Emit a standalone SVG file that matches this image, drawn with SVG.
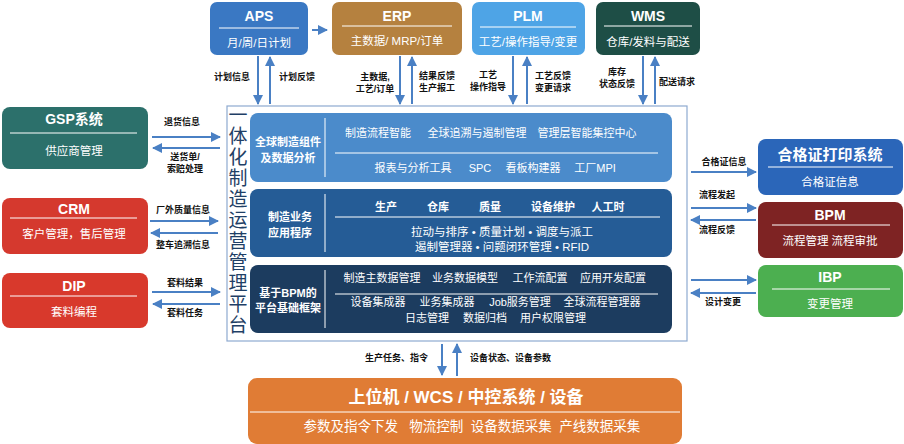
<svg xmlns="http://www.w3.org/2000/svg" width="904" height="444" viewBox="0 0 904 444">
<defs>
<marker id="ah2" viewBox="0 0 10 10" refX="9" refY="5" markerWidth="10" markerHeight="10" orient="auto" markerUnits="userSpaceOnUse">
<path d="M0,0 L10,5 L0,10 z" fill="#4a80c4"/>
</marker>
</defs>
<style>
text{font-family:"Liberation Sans","Noto Sans CJK SC",sans-serif;}
.t{fill:#fff;font-weight:bold;font-size:14px;text-anchor:middle;}
.s{fill:#fff;font-size:11.5px;text-anchor:middle;}
.sec{fill:#fff;font-size:11px;text-anchor:middle;}
.secb{fill:#fff;font-size:11px;font-weight:bold;text-anchor:middle;}
.lab{fill:#111;font-size:9px;font-weight:bold;text-anchor:middle;}
.wl{stroke:#fff;stroke-width:1;}
.arr{stroke:#4a80c4;stroke-width:2;fill:none;marker-end:url(#ah2);}
.vt{fill:#1f3f66;font-size:19px;text-anchor:middle;}
</style>
<rect width="904" height="444" fill="#fff"/>

<g id="platform">
<rect x="227" y="106" width="460" height="235" fill="#fff" stroke="#8eaad0" stroke-width="1.2"/>
<g class="vt">
<text x="238" y="122">一</text>
<text x="238" y="143">体</text>
<text x="238" y="164">化</text>
<text x="238" y="185">制</text>
<text x="238" y="206">造</text>
<text x="238" y="227">运</text>
<text x="238" y="248">营</text>
<text x="238" y="269">管</text>
<text x="238" y="290">理</text>
<text x="238" y="311">平</text>
<text x="238" y="332">台</text>
</g>
</g>

<g id="sec1">
<rect x="250" y="113" width="422" height="69" rx="8" fill="#4b8bcb"/>
<line x1="325" y1="118" x2="325" y2="177" class="wl"/>
<text class="secb" x="288" y="146">全球制造组件</text>
<text class="secb" x="288" y="162">及数据分析</text>
<text class="sec" x="378" y="137">制造流程智能</text>
<text class="sec" x="477" y="137">全球追溯与遏制管理</text>
<text class="sec" x="587" y="137">管理层智能集控中心</text>
<line x1="335" y1="153" x2="658" y2="153" class="wl"/>
<text class="sec" x="413" y="172">报表与分析工具</text>
<text class="sec" x="480" y="172">SPC</text>
<text class="sec" x="533" y="172">看板构建器</text>
<text class="sec" x="595" y="172">工厂MPI</text>
</g>

<g id="sec2">
<rect x="250" y="189" width="422" height="68" rx="8" fill="#255c96"/>
<line x1="325" y1="194" x2="325" y2="252" class="wl"/>
<text class="secb" x="290" y="221">制造业务</text>
<text class="secb" x="290" y="237">应用程序</text>
<text class="secb" x="386" y="211">生产</text>
<text class="secb" x="438" y="211">仓库</text>
<text class="secb" x="490" y="211">质量</text>
<text class="secb" x="553" y="211">设备维护</text>
<text class="secb" x="608" y="211">人工时</text>
<line x1="335" y1="217" x2="660" y2="217" class="wl"/>
<text class="sec" x="502" y="236" style="font-size:11.5px">拉动与排序 • 质量计划 • 调度与派工</text>
<text class="sec" x="502" y="251" style="font-size:11.5px">遏制管理器 • 问题闭环管理 • RFID</text>
</g>

<g id="sec3">
<rect x="250" y="265" width="422" height="68" rx="8" fill="#1c3c5f"/>
<line x1="325" y1="270" x2="325" y2="328" class="wl"/>
<text class="secb" x="288" y="297">基于BPM的</text>
<text class="secb" x="288" y="312">平台基础框架</text>
<text class="sec" x="382" y="282">制造主数据管理</text>
<text class="sec" x="465" y="282">业务数据模型</text>
<text class="sec" x="540" y="282">工作流配置</text>
<text class="sec" x="613" y="282">应用开发配置</text>
<line x1="335" y1="294" x2="658" y2="294" class="wl"/>
<text class="sec" x="378" y="306">设备集成器</text>
<text class="sec" x="447" y="306">业务集成器</text>
<text class="sec" x="520" y="306">Job服务管理</text>
<text class="sec" x="602" y="306">全球流程管理器</text>
<text class="sec" x="427" y="322">日志管理</text>
<text class="sec" x="485" y="322">数据归档</text>
<text class="sec" x="553" y="322">用户权限管理</text>
</g>

<g id="aps">
<rect x="210" y="2" width="98" height="53" rx="7" fill="#3a78c3"/>
<text class="t" x="259" y="21">APS</text>
<line x1="219" y1="28" x2="299" y2="28" class="wl"/>
<text class="s" x="259" y="47">月/周/日计划</text>
</g>
<g id="erp">
<rect x="332" y="2" width="130" height="53" rx="7" fill="#b5813f"/>
<text class="t" x="397" y="21">ERP</text>
<line x1="342" y1="26" x2="452" y2="26" class="wl"/>
<text class="s" x="397" y="45">主数据/ MRP/订单</text>
</g>
<g id="plm">
<rect x="472" y="2" width="113" height="53" rx="7" fill="#4ea4e6"/>
<text class="t" x="528" y="21">PLM</text>
<line x1="480" y1="27" x2="576" y2="27" class="wl"/>
<text class="s" x="528" y="46">工艺/操作指导/变更</text>
</g>
<g id="wms">
<rect x="596" y="2" width="104" height="53" rx="7" fill="#1e4e46"/>
<text class="t" x="648" y="21">WMS</text>
<line x1="604" y1="26" x2="692" y2="26" class="wl"/>
<text class="s" x="648" y="46">仓库/发料与配送</text>
</g>

<g id="gsp">
<rect x="2" y="107" width="146" height="62" rx="8" fill="#2c706b"/>
<text class="t" x="74" y="124">GSP系统</text>
<line x1="10" y1="133" x2="137" y2="133" class="wl"/>
<text class="s" x="74" y="155">供应商管理</text>
</g>
<g id="crm">
<rect x="2" y="198" width="146" height="56" rx="8" fill="#d5392e"/>
<text class="t" x="74" y="214">CRM</text>
<line x1="10" y1="218" x2="137" y2="218" class="wl"/>
<text class="s" x="74" y="238">客户管理，售后管理</text>
</g>
<g id="dip">
<rect x="2" y="273" width="146" height="55" rx="8" fill="#d8392c"/>
<text class="t" x="74" y="291">DIP</text>
<line x1="10" y1="296" x2="137" y2="296" class="wl"/>
<text class="s" x="74" y="316">套料编程</text>
</g>

<g id="hgz">
<rect x="758" y="139" width="145" height="56" rx="8" fill="#2b66b9"/>
<text class="t" x="830" y="160" style="font-size:15px">合格证打印系统</text>
<line x1="768" y1="167" x2="893" y2="167" class="wl"/>
<text class="s" x="830" y="186">合格证信息</text>
</g>
<g id="bpm">
<rect x="758" y="202" width="145" height="56" rx="8" fill="#7e2323"/>
<text class="t" x="830" y="220">BPM</text>
<line x1="772" y1="225" x2="890" y2="225" class="wl"/>
<text class="s" x="830" y="245">流程管理 流程审批</text>
</g>
<g id="ibp">
<rect x="758" y="265" width="145" height="52" rx="8" fill="#4caf50"/>
<text class="t" x="830" y="282">IBP</text>
<line x1="772" y1="289" x2="890" y2="289" class="wl"/>
<text class="s" x="830" y="308">变更管理</text>
</g>

<g id="device">
<rect x="248" y="378" width="434" height="66" rx="9" fill="#e07c35"/>
<text class="t" x="466" y="403" style="font-size:17px">上位机 / WCS / 中控系统 / 设备</text>
<line x1="250" y1="412" x2="680" y2="412" class="wl"/>
<text class="s" x="472" y="431" style="font-size:13.5px" xml:space="preserve">参数及指令下发   物流控制  设备数据采集  产线数据采集</text>
</g>

<g id="connectors">
<line x1="312" y1="30" x2="327" y2="30" class="arr"/>
<line x1="258" y1="56" x2="258" y2="104" class="arr"/>
<line x1="270" y1="104" x2="270" y2="57" class="arr"/>
<line x1="400" y1="56" x2="400" y2="104" class="arr"/>
<line x1="412" y1="104" x2="412" y2="57" class="arr"/>
<line x1="513" y1="56" x2="513" y2="104" class="arr"/>
<line x1="527" y1="104" x2="527" y2="57" class="arr"/>
<line x1="643" y1="56" x2="643" y2="104" class="arr"/>
<line x1="655" y1="104" x2="655" y2="57" class="arr"/>

<line x1="152" y1="137" x2="220" y2="137" class="arr"/>
<line x1="220" y1="148" x2="153" y2="148" class="arr"/>
<line x1="150" y1="221" x2="218" y2="221" class="arr"/>
<line x1="218" y1="233" x2="151" y2="233" class="arr"/>
<line x1="152" y1="292" x2="220" y2="292" class="arr"/>
<line x1="220" y1="304" x2="153" y2="304" class="arr"/>

<line x1="691" y1="172" x2="756" y2="172" class="arr"/>
<line x1="691" y1="208" x2="756" y2="208" class="arr"/>
<line x1="756" y1="220" x2="691" y2="220" class="arr"/>
<line x1="691" y1="280" x2="756" y2="280" class="arr"/>
<line x1="756" y1="293" x2="691" y2="293" class="arr"/>

<line x1="442" y1="344" x2="442" y2="375" class="arr"/>
<line x1="457" y1="376" x2="457" y2="344" class="arr"/>
</g>

<g id="labels">
<text class="lab" x="232" y="80">计划信息</text>
<text class="lab" x="297" y="80">计划反馈</text>
<text class="lab" x="375" y="80">主数据,</text>
<text class="lab" x="375" y="92">工艺/订单</text>
<text class="lab" x="437" y="79">结果反馈</text>
<text class="lab" x="437" y="91">生产报工</text>
<text class="lab" x="488" y="78">工艺</text>
<text class="lab" x="488" y="90">操作指导</text>
<text class="lab" x="553" y="79">工艺反馈</text>
<text class="lab" x="553" y="91">变更请求</text>
<text class="lab" x="617" y="75">库存</text>
<text class="lab" x="617" y="87">状态反馈</text>
<text class="lab" x="677" y="85">配送请求</text>

<text class="lab" x="182" y="125">退货信息</text>
<text class="lab" x="185" y="160">送货单/</text>
<text class="lab" x="185" y="172">索赔处理</text>
<text class="lab" x="183" y="213">厂外质量信息</text>
<text class="lab" x="183" y="248">整车追溯信息</text>
<text class="lab" x="185" y="286">套料结果</text>
<text class="lab" x="185" y="316">套料任务</text>

<text class="lab" x="724" y="165">合格证信息</text>
<text class="lab" x="717" y="198">流程发起</text>
<text class="lab" x="717" y="233">流程反馈</text>
<text class="lab" x="723" y="305">设计变更</text>

<text class="lab" x="428" y="361" style="text-anchor:end">生产任务、指令</text>
<text class="lab" x="470" y="361" style="text-anchor:start">设备状态、设备参数</text>
</g>
</svg>
